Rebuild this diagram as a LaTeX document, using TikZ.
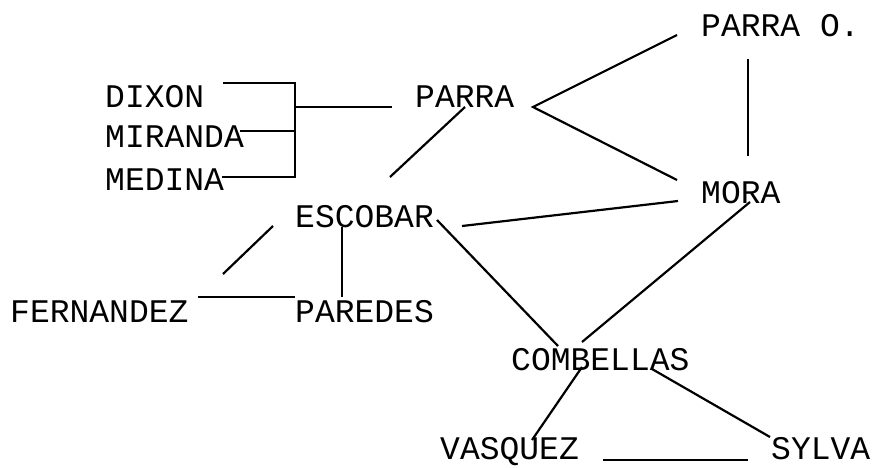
\documentclass[tikz,border=0pt]{standalone}
\usepackage{fontspec}
\setmonofont{Liberation Mono}
\begin{document}
\begin{tikzpicture}[x=1pt,y=-1pt,
  lbl/.style={anchor=base west,inner sep=0pt,font=\ttfamily\fontsize{33}{33}\selectfont},
  link/.style={line width=2.2pt,black}]
\useasboundingbox (0,0) rectangle (878,467);
\node[lbl] (dixon) at (105,107) {DIXON};
\node[lbl] (miranda) at (105,147) {MIRANDA};
\node[lbl] (medina) at (105,190) {MEDINA};
\node[lbl] (parra) at (415,107) {PARRA};
\node[lbl] (parrao) at (701,36) {PARRA O.};
\node[lbl] (mora) at (701,203) {MORA};
\node[lbl] (escobar) at (295,227) {ESCOBAR};
\node[lbl] (fernandez) at (10,322) {FERNANDEZ};
\node[lbl] (paredes) at (295,322) {PAREDES};
\node[lbl] (combellas) at (511,370) {COMBELLAS};
\node[lbl] (vasquez) at (440,459) {VASQUEZ};
\node[lbl] (sylva) at (771,459) {SYLVA};
% bracket
\coordinate (bx1) at (295,83);
\coordinate (bx2) at (295,131);
\coordinate (bx3) at (295,177);
\coordinate (bm) at (295,107);
\coordinate (dixE) at (223,83);
\coordinate (mirE) at (240,131);
\coordinate (medE) at (222,177);
\coordinate (parW) at (392,107);
\draw[link] (dixE) -- (bx1) -- (bx3) -- (medE);
\draw[link] (mirE) -- (bx2);
\draw[link] (bm) -- (parW);
% parra
\coordinate (parR) at (533,107);
\coordinate (parB) at (465,107);
\coordinate (escT) at (390,177);
\coordinate (poL) at (677,35);
\coordinate (moraL) at (677,180);
\coordinate (poB) at (748,59);
\coordinate (moraT) at (748,156);
\draw[link] (parB) -- (escT);
\draw[link] (poL) -- (parR) -- (moraL);
\draw[link] (poB) -- (moraT);
% mora
\coordinate (moraW) at (678,201);
\coordinate (escE) at (462,226);
\coordinate (moraB) at (750,202);
\coordinate (comT) at (582,342);
\draw[link] (moraW) -- (escE);
\draw[link] (moraB) -- (comT);
% escobar
\coordinate (escR) at (437,220);
\coordinate (comT2) at (558,346);
\coordinate (escW) at (273,226);
\coordinate (ferT) at (223,274);
\coordinate (ferE) at (198,297);
\coordinate (parW2) at (295,297);
\coordinate (escC) at (342,227);
\coordinate (pardT) at (342,297);
\draw[link] (escR) -- (comT2);
\draw[link] (escW) -- (ferT);
\draw[link] (ferE) -- (parW2);
\draw[link] (escC) -- (pardT);
% combellas
\coordinate (comB) at (582,367);
\coordinate (vasT) at (532,440);
\coordinate (comB2) at (652,369);
\coordinate (sylW) at (770,437);
\coordinate (vasE) at (603,460);
\coordinate (sylW2) at (748,460);
\draw[link] (comB) -- (vasT);
\draw[link] (comB2) -- (sylW);
\draw[link] (vasE) -- (sylW2);
\end{tikzpicture}
\end{document}
